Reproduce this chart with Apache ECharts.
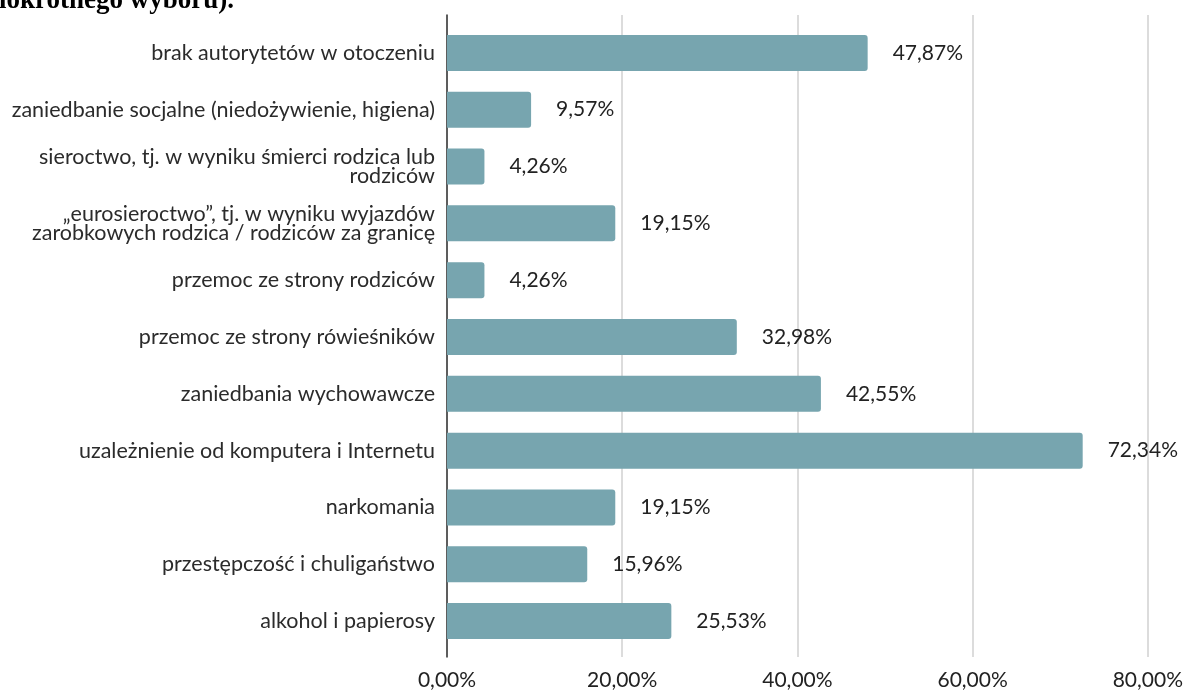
<!DOCTYPE html>
<html>
<head>
<meta charset="utf-8">
<script src="https://cdn.jsdelivr.net/npm/echarts@6/dist/echarts.min.js"></script>
<style>
  html, body { margin: 0; padding: 0; background: #fff; }
  #chart { width: 1186px; height: 691px; }
</style>
</head>
<body>
<div id="chart"></div>
<script>
// Causes listed top to bottom
const categories = [
  'brak autorytetów w otoczeniu',
  'zaniedbanie socjalne (niedożywienie, higiena)',
  'sieroctwo, tj. w wyniku śmierci rodzica lub\nrodziców',
  '„eurosieroctwo”, tj. w wyniku wyjazdów\nzarobkowych rodzica / rodziców za granicę',
  'przemoc ze strony rodziców',
  'przemoc ze strony rówieśników',
  'zaniedbania wychowawcze',
  'uzależnienie od komputera i Internetu',
  'narkomania',
  'przestępczość i chuligaństwo',
  'alkohol i papierosy'
];

// Share of answers, percent
const values = [47.87, 9.57, 4.26, 19.15, 4.26, 32.98, 42.55, 72.34, 19.15, 15.96, 25.53];

// Value axis ticks, percent
const xTicks = [0, 20, 40, 60, 80];

const fmtPct = v => v.toFixed(2).replace('.', ',') + '%';

const FONT = 'Lato';
const LEFT = 447, RIGHT = 36;

const chart = echarts.init(document.getElementById('chart'), null, { renderer: 'canvas' });

chart.setOption({
  animation: false,
  backgroundColor: '#fff',
  textStyle: { fontFamily: FONT },
  graphic: [{
    type: 'text',
    style: {
      text: '(pytanie wielokrotnego wyboru).',
      x: 234, y: 15,
      align: 'right',
      verticalAlign: 'bottom',
      font: 'bold 27px "Liberation Serif"',
      fill: '#000'
    }
  }],
  grid: [
    // bars and category labels
    { left: LEFT, right: RIGHT, top: 24.5, bottom: 41.5 },
    // frame: split lines, axis line, tick labels
    { left: LEFT, right: RIGHT, top: 15, bottom: 34 }
  ],
  xAxis: [
    { gridIndex: 0, type: 'value', min: 0, max: xTicks[xTicks.length - 1], interval: 20, show: false },
    {
      gridIndex: 1, type: 'value', min: 0, max: xTicks[xTicks.length - 1], interval: 20,
      axisLine: { show: false },
      axisTick: { show: false },
      splitLine: { show: true, lineStyle: { color: '#d0d0d0', width: 1.5 } },
      axisLabel: {
        formatter: v => fmtPct(v),
        color: '#222', fontSize: 21, fontFamily: FONT, margin: 13
      }
    }
  ],
  yAxis: [
    {
      gridIndex: 0, type: 'category', data: categories, inverse: true,
      axisLine: { show: false }, axisTick: { show: false }, splitLine: { show: false },
      axisLabel: {
        color: '#2b2b2b', fontSize: 21.5, fontFamily: FONT, margin: 12,
        lineHeight: 19, align: 'right'
      }
    },
    {
      gridIndex: 1, type: 'category', data: [''],
      axisLine: { show: true, lineStyle: { color: '#333', width: 1.5 } },
      axisTick: { show: false }, axisLabel: { show: false }, splitLine: { show: false }
    }
  ],
  series: [{
    type: 'bar',
    xAxisIndex: 0, yAxisIndex: 0,
    data: values,
    barWidth: 36,
    itemStyle: { color: '#77a5af', borderRadius: [0, 3, 3, 0] },
    label: {
      show: true, position: 'right', distance: 25,
      formatter: p => fmtPct(p.value),
      color: '#222', fontSize: 21, fontFamily: FONT
    }
  }]
});
</script>
</body>
</html>
